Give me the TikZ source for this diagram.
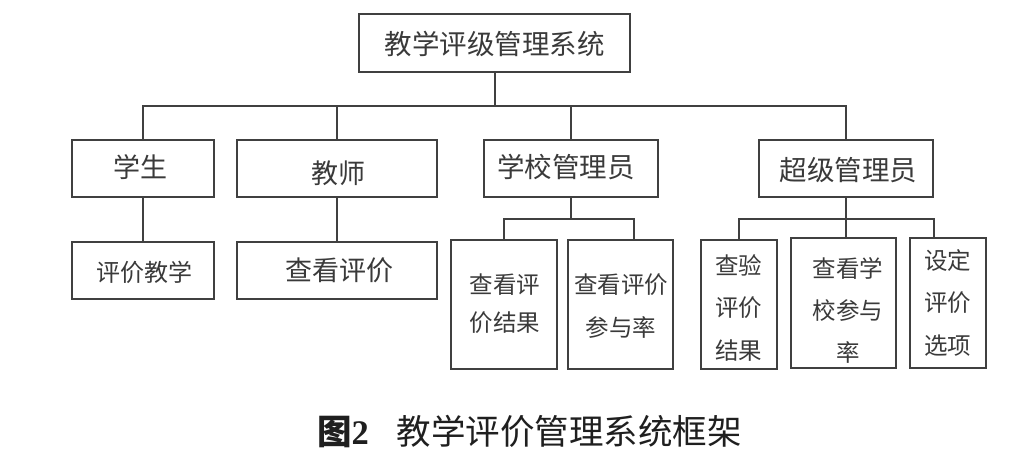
\documentclass[tikz,border=0pt]{standalone}
\usepackage{fontspec}
\newfontfamily\cjk{Noto Sans CJK SC}
\newfontfamily\capserif{Liberation Serif}
\usetikzlibrary{fit}
\definecolor{lc}{HTML}{404040}
\definecolor{tc}{HTML}{3A3A3A}
\begin{document}
\begin{tikzpicture}[x=1pt,y=-1pt,
  box/.style={draw=lc,line width=2.4pt,inner sep=0pt,rectangle},
  conn/.style={draw=lc,line width=2pt},
  lbl/.style={text=tc,inner sep=0pt,align=center}]
\useasboundingbox[fill=white] (0,0) rectangle (1009,451);
% boxes
\node[box,fit={(359,14)(630,72)}] (root) {};
\node[box,fit={(72,140)(214,197)}] (stu) {};
\node[box,fit={(237,140)(437,197)}] (tea) {};
\node[box,fit={(484,140)(658,197)}] (sch) {};
\node[box,fit={(759,140)(933,197)}] (sup) {};
\node[box,fit={(72,242)(214,299)}] (eval) {};
\node[box,fit={(237,242)(437,299)}] (view) {};
\node[box,fit={(451,240)(557,369)}] (s1) {};
\node[box,fit={(568,240)(673,369)}] (s2) {};
\node[box,fit={(701,240)(777,369)}] (sa1) {};
\node[box,fit={(791,238)(896,368)}] (sa2) {};
\node[box,fit={(910,238)(986,368)}] (sa3) {};
% labels
\node[lbl,font=\cjk\fontsize{27.5}{30}\selectfont] (rootT) at (494.5,44) {教学评级管理系统};
\node[lbl,font=\cjk\fontsize{27}{30}\selectfont] (stuT) at (140,167) {学生};
\node[lbl,font=\cjk\fontsize{27}{30}\selectfont] (teaT) at (338.5,173) {教师};
\node[lbl,font=\cjk\fontsize{27.5}{30}\selectfont] (schT) at (566,167) {学校管理员};
\node[lbl,font=\cjk\fontsize{27.5}{30}\selectfont] (supT) at (848.5,170) {超级管理员};
\node[lbl,font=\cjk\fontsize{24}{28}\selectfont] (evalT) at (144.5,272) {评价教学};
\node[lbl,font=\cjk\fontsize{27}{30}\selectfont] (viewT) at (339,270) {查看评价};
\node[lbl,font=\cjk\fontsize{23.5}{38}\selectfont] (s1T) at (505,304) {查看评\\价结果};
\node[lbl,font=\cjk\fontsize{23.5}{43}\selectfont] (s2T) at (621,306.5) {查看评价\\参与率};
\node[lbl,font=\cjk\fontsize{23.5}{42.5}\selectfont] (sa1T) at (738.5,307.5) {查验\\评价\\结果};
\node[lbl,font=\cjk\fontsize{23.5}{42}\selectfont] (sa2T) at (848,310) {查看学\\校参与\\率};
\node[lbl,font=\cjk\fontsize{23.5}{42.5}\selectfont] (sa3T) at (947.5,302.5) {设定\\评价\\选项};
% connectors
\coordinate (b2r) at (634,219);
\coordinate (b3r) at (934,219);
\draw[conn] (root.south) -- ++(0,33) coordinate (bus);
\draw[conn] (stu.north) |- (bus) -| (sup.north);
\draw[conn] (tea.north) -- (tea.north |- bus);
\draw[conn] (sch.north) -- (sch.north |- bus);
\draw[conn] (stu.south) -- (eval.north);
\draw[conn] (tea.south) -- (view.north);
\draw[conn] (sch.south) -- (sch.south |- b2r);
\draw[conn] (s1.north) |- (b2r) -- (b2r |- s2.north);
\draw[conn] (sup.south) -- (sup.south |- sa2.north);
\draw[conn] (sa1.north) |- (b3r) -- (b3r |- sa3.north);
% caption
\node[inner sep=0pt,text=black!88,font=\fontsize{34.5}{40}\selectfont] (cap) at (529.5,432)
  {{\cjk\bfseries 图}{\capserif\bfseries 2}\hspace{28pt}{\cjk 教学评价管理系统框架}};
\end{tikzpicture}
\end{document}
